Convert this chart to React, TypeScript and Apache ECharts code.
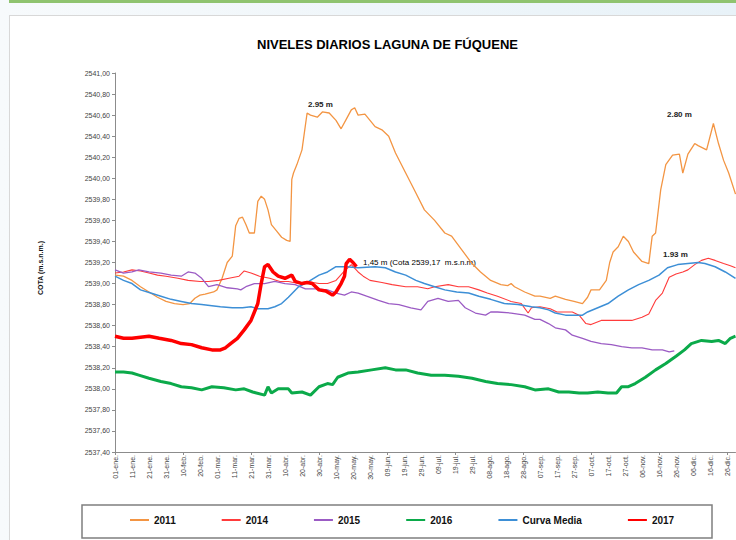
import React, { useEffect, useRef } from "react";
import * as echarts from "echarts";

const MONTHS = ["ene", "feb", "mar", "abr", "may", "jun", "jul", "ago", "sep", "oct", "nov", "dic"];
const MONTH_DAYS = [31, 29, 31, 30, 31, 30, 31, 31, 30, 31, 30, 31];
const CATEGORIES: string[] = [];
MONTHS.forEach((m, i) => {
  for (let d = 1; d <= MONTH_DAYS[i]; d++) CATEGORIES.push(`${d < 10 ? "0" + d : d}-${m}.`);
});

const S2011: [number, number][] = [
  [0, 2539.08], [5, 2539.07], [10, 2539.03], [15, 2538.97], [20, 2538.92], [25, 2538.87], [30, 2538.83], [35, 2538.81],
  [40, 2538.8], [44, 2538.81], [47, 2538.86], [50, 2538.89], [53, 2538.9], [58, 2538.92], [60, 2538.94], [63, 2539.05],
  [66, 2539.2], [69, 2539.26], [71, 2539.55], [73, 2539.62], [75, 2539.63], [77, 2539.56], [79, 2539.48], [82, 2539.48],
  [84, 2539.78], [86, 2539.83], [88, 2539.8], [90, 2539.7], [92, 2539.56], [95, 2539.5], [98, 2539.44], [101, 2539.41],
  [103, 2539.4], [104, 2539.99], [105, 2540.05], [107, 2540.13], [110, 2540.27], [113, 2540.62], [115, 2540.6],
  [119, 2540.58], [122, 2540.63], [126, 2540.62], [130, 2540.55], [133, 2540.47], [136, 2540.56], [139, 2540.65],
  [141, 2540.67], [143, 2540.6], [147, 2540.61], [150, 2540.55], [153, 2540.49], [157, 2540.46], [161, 2540.4],
  [165, 2540.24], [171, 2540.05], [177, 2539.86], [182, 2539.7], [188, 2539.6], [194, 2539.48], [198, 2539.45],
  [204, 2539.32], [210, 2539.19], [215, 2539.11], [221, 2539.03], [227, 2538.99], [231, 2538.98], [233, 2539.0],
  [235, 2538.97], [241, 2538.92], [247, 2538.88], [250, 2538.88], [256, 2538.86], [259, 2538.88], [265, 2538.85],
  [270, 2538.83], [275, 2538.81], [278, 2538.87], [280, 2538.94], [285, 2538.94], [289, 2539.03], [291, 2539.2],
  [293, 2539.3], [296, 2539.35], [299, 2539.45], [302, 2539.4], [305, 2539.3], [310, 2539.21], [314, 2539.19],
  [316, 2539.45], [318, 2539.48], [321, 2539.89], [324, 2540.13], [328, 2540.22], [332, 2540.23], [334, 2540.05],
  [337, 2540.23], [341, 2540.33], [343, 2540.31], [348, 2540.27], [352, 2540.52], [355, 2540.33], [358, 2540.17],
  [361, 2540.05], [365, 2539.85],
];

const S2014: [number, number][] = [
  [0, 2539.1], [5, 2539.11], [10, 2539.13], [15, 2539.12], [20, 2539.1], [25, 2539.08], [30, 2539.07], [37, 2539.05],
  [43, 2539.03], [50, 2539.02], [55, 2539.02], [61, 2539.03], [67, 2539.05], [73, 2539.07], [76, 2539.12], [80, 2539.1],
  [85, 2539.07], [91, 2539.05], [97, 2539.02], [102, 2539.02], [108, 2539.0], [113, 2539.02], [120, 2539.0],
  [125, 2539.0], [130, 2539.03], [135, 2539.12], [139, 2539.18], [143, 2539.11], [146, 2539.07], [150, 2539.03],
  [157, 2539.01], [163, 2538.99], [171, 2538.97], [178, 2538.97], [184, 2538.95], [188, 2538.97], [196, 2538.99],
  [202, 2538.97], [208, 2538.97], [214, 2538.94], [219, 2538.91], [225, 2538.88], [233, 2538.83], [239, 2538.81],
  [243, 2538.72], [245, 2538.77], [250, 2538.78], [256, 2538.76], [260, 2538.73], [265, 2538.73], [269, 2538.73],
  [273, 2538.7], [277, 2538.62], [280, 2538.61], [286, 2538.65], [292, 2538.65], [298, 2538.65], [304, 2538.65],
  [310, 2538.68], [314, 2538.71], [318, 2538.84], [322, 2538.91], [326, 2539.06], [330, 2539.09], [334, 2539.11],
  [337, 2539.13], [341, 2539.18], [345, 2539.22], [349, 2539.24], [353, 2539.22], [358, 2539.19], [362, 2539.17],
  [365, 2539.15],
];

const S2015: [number, number][] = [
  [0, 2539.13], [5, 2539.1], [10, 2539.11], [14, 2539.13], [20, 2539.11], [27, 2539.1], [33, 2539.08], [39, 2539.07],
  [43, 2539.11], [47, 2539.1], [51, 2539.05], [55, 2538.97], [60, 2538.99], [66, 2538.96], [72, 2538.95], [74, 2538.94],
  [77, 2538.97], [82, 2539.0], [88, 2539.0], [94, 2539.02], [100, 2539.0], [106, 2538.99], [112, 2538.95],
  [118, 2538.95], [125, 2538.94], [130, 2538.91], [135, 2538.89], [139, 2538.92], [143, 2538.91], [148, 2538.88],
  [155, 2538.84], [161, 2538.81], [167, 2538.8], [174, 2538.77], [180, 2538.75], [184, 2538.83], [190, 2538.86],
  [196, 2538.83], [202, 2538.84], [206, 2538.77], [212, 2538.72], [218, 2538.7], [221, 2538.73], [225, 2538.73],
  [233, 2538.72], [241, 2538.7], [247, 2538.66], [250, 2538.66], [255, 2538.62], [259, 2538.58], [265, 2538.56],
  [269, 2538.51], [275, 2538.48], [280, 2538.45], [286, 2538.43], [292, 2538.42], [298, 2538.4], [304, 2538.39],
  [310, 2538.39], [316, 2538.37], [322, 2538.37], [326, 2538.35], [329, 2538.36],
];

const S2016: [number, number][] = [
  [0, 2538.16], [5, 2538.16], [10, 2538.15], [14, 2538.13], [20, 2538.1], [27, 2538.07], [33, 2538.05], [39, 2538.02],
  [45, 2538.01], [51, 2537.99], [57, 2538.02], [64, 2538.01], [71, 2537.99], [76, 2538.0], [81, 2537.97], [88, 2537.94],
  [90, 2538.02], [92, 2537.96], [96, 2538.0], [102, 2538.0], [104, 2537.96], [110, 2537.97], [115, 2537.94],
  [120, 2538.02], [125, 2538.05], [128, 2538.04], [131, 2538.11], [137, 2538.15], [143, 2538.16], [151, 2538.18],
  [159, 2538.2], [165, 2538.18], [171, 2538.18], [178, 2538.15], [186, 2538.13], [194, 2538.13], [202, 2538.12],
  [210, 2538.1], [218, 2538.07], [225, 2538.05], [233, 2538.04], [241, 2538.02], [247, 2537.99], [255, 2538.0],
  [261, 2537.97], [267, 2537.97], [273, 2537.96], [278, 2537.96], [284, 2537.97], [290, 2537.96], [295, 2537.96],
  [298, 2538.02], [302, 2538.02], [306, 2538.05], [312, 2538.11], [318, 2538.18], [324, 2538.24], [330, 2538.31],
  [335, 2538.37], [339, 2538.43], [345, 2538.46], [351, 2538.45], [355, 2538.46], [359, 2538.43], [362, 2538.48],
  [365, 2538.5],
];

const SMEDIA: [number, number][] = [
  [0, 2539.07], [5, 2539.03], [10, 2539.0], [15, 2538.94], [21, 2538.91], [27, 2538.88], [33, 2538.85], [39, 2538.83],
  [45, 2538.81], [51, 2538.8], [57, 2538.79], [62, 2538.78], [69, 2538.77], [75, 2538.77], [80, 2538.78], [84, 2538.76],
  [90, 2538.76], [94, 2538.78], [98, 2538.81], [102, 2538.87], [108, 2538.97], [114, 2539.02], [120, 2539.08],
  [125, 2539.11], [130, 2539.16], [136, 2539.16], [143, 2539.15], [153, 2539.16], [159, 2539.15], [165, 2539.11],
  [171, 2539.08], [177, 2539.03], [182, 2539.0], [188, 2538.97], [194, 2538.94], [201, 2538.92], [208, 2538.91],
  [214, 2538.88], [221, 2538.85], [229, 2538.81], [237, 2538.8], [245, 2538.78], [250, 2538.77], [255, 2538.75],
  [259, 2538.72], [265, 2538.7], [271, 2538.7], [275, 2538.7], [278, 2538.73], [284, 2538.77], [290, 2538.81],
  [296, 2538.88], [302, 2538.94], [308, 2538.99], [314, 2539.03], [320, 2539.08], [325, 2539.15], [331, 2539.18],
  [337, 2539.19], [343, 2539.2], [347, 2539.19], [353, 2539.16], [359, 2539.11], [365, 2539.05],
];

const S2017: [number, number][] = [
  [0, 2538.5], [5, 2538.48], [10, 2538.48], [15, 2538.49], [20, 2538.5], [26, 2538.48], [33, 2538.46], [39, 2538.43],
  [45, 2538.42], [51, 2538.39], [57, 2538.37], [62, 2538.37], [65, 2538.39], [68, 2538.43], [72, 2538.48], [76, 2538.56],
  [80, 2538.65], [84, 2538.81], [86, 2539.0], [88, 2539.16], [90, 2539.18], [93, 2539.11], [96, 2539.07], [100, 2539.05],
  [104, 2539.08], [106, 2539.02], [110, 2539.0], [113, 2539.01], [116, 2539.0], [120, 2538.94], [124, 2538.93],
  [128, 2538.89], [130, 2538.92], [133, 2539.0], [135, 2539.07], [136, 2539.19], [138, 2539.23], [140, 2539.2],
  [142, 2539.16],
];

const SERIES = [
  { name: "2011", data: S2011, color: "#F39543", width: 1.3 },
  { name: "2014", data: S2014, color: "#FF3B3B", width: 1.1 },
  { name: "2015", data: S2015, color: "#9B5BC4", width: 1.3 },
  { name: "2016", data: S2016, color: "#0BAA4A", width: 3 },
  { name: "Curva Media", data: SMEDIA, color: "#3D8FD6", width: 1.5 },
  { name: "2017", data: S2017, color: "#FF0000", width: 3.5 },
];

const FONT = "'Liberation Sans', Arial, sans-serif";

export default function App() {
  const ref = useRef<HTMLDivElement>(null);
  useEffect(() => {
    if (!ref.current) return;
    const chart = echarts.init(ref.current, undefined, { renderer: "svg" });
    chart.setOption({
      animation: false,
      textStyle: { fontFamily: FONT },
      title: {
        text: "NIVELES DIARIOS LAGUNA DE FÚQUENE",
        left: 252,
        top: 33,
        textStyle: { fontSize: 13, fontWeight: "bold", color: "#000", fontFamily: FONT },
      },
      grid: { left: 115, top: 73, width: 620.5, height: 379, containLabel: false },
      xAxis: {
        type: "category",
        data: CATEGORIES,
        boundaryGap: false,
        axisLine: { show: true, lineStyle: { color: "#8c8c8c", width: 1 } },
        axisTick: { show: true, interval: 39, length: 3, lineStyle: { color: "#8c8c8c" } },
        axisLabel: { interval: 9, rotate: 90, fontSize: 7, color: "#444", margin: 3, fontFamily: FONT },
        splitLine: { show: false },
      },
      yAxis: {
        type: "value",
        min: 2537.4,
        max: 2541,
        interval: 0.2,
        axisLine: { show: true, lineStyle: { color: "#8c8c8c", width: 1 } },
        axisTick: { show: true, length: 3, lineStyle: { color: "#8c8c8c" } },
        axisLabel: {
          fontSize: 7,
          color: "#444",
          margin: 5,
          fontFamily: FONT,
          formatter: (v: number) => v.toFixed(2).replace(".", ","),
        },
        splitLine: { show: false },
      },
      legend: {
        left: 124,
        top: 510,
        itemWidth: 19,
        itemHeight: 10,
        itemGap: 45,
        itemStyle: { opacity: 0 },
        data: SERIES.map((s) => ({ name: s.name, itemStyle: { opacity: 0 } })),
        textStyle: { fontSize: 10, fontWeight: "bold", color: "#111", fontFamily: FONT },
      },
      series: SERIES.map((s) => ({
        name: s.name,
        type: "line",
        data: s.data,
        symbol: "none",
        showSymbol: false,
        color: s.color,
        lineStyle: { color: s.color, width: s.width },
        z: s.name === "2017" ? 5 : 2,
      })),
      graphic: [
        {
          type: "rect",
          shape: { x: 82, y: 505, width: 630, height: 33 },
          style: { fill: "none", stroke: "#7f7f7f", lineWidth: 1.5 },
          silent: true,
        },
        {
          type: "text",
          x: 40,
          y: 268,
          rotation: Math.PI / 2,
          style: {
            text: "COTA (m.s.n.m.)",
            fontSize: 7,
            fontWeight: "bold",
            fill: "#111",
            fontFamily: FONT,
            textAlign: "center",
            textVerticalAlign: "middle",
          },
        },
        {
          type: "text",
          x: 308,
          y: 104,
          style: { text: "2.95 m", fontSize: 8, fontWeight: "bold", fill: "#222", fontFamily: FONT, textVerticalAlign: "middle" },
        },
        {
          type: "text",
          x: 667,
          y: 114,
          style: { text: "2.80 m", fontSize: 8, fontWeight: "bold", fill: "#222", fontFamily: FONT, textVerticalAlign: "middle" },
        },
        {
          type: "text",
          x: 663,
          y: 254,
          style: { text: "1.93 m", fontSize: 8, fontWeight: "bold", fill: "#222", fontFamily: FONT, textVerticalAlign: "middle" },
        },
        {
          type: "text",
          x: 363,
          y: 262,
          style: {
            text: "1,45 m (Cota 2539,17  m.s.n.m)",
            fontSize: 8,
            fill: "#000",
            fontFamily: FONT,
            textVerticalAlign: "middle",
          },
        },
      ],
    });
    return () => chart.dispose();
  }, []);

  return (
    <div
      style={{
        position: "fixed",
        left: 0,
        top: 0,
        width: 736,
        height: 540,
        overflow: "hidden",
        background: "linear-gradient(90deg, #f7fafc 0%, #e8f2f8 100%)",
      }}
    >
      <div style={{ position: "absolute", left: 9, top: 0, width: 727, height: 3, background: "#8fc36f" }} />
      <div
        style={{
          position: "absolute",
          left: 9,
          top: 15,
          width: 760,
          height: 560,
          background: "#fff",
          border: "1px solid #d8d8d8",
        }}
      />
      <div ref={ref} style={{ position: "absolute", left: 0, top: 0, width: 736, height: 540 }} />
    </div>
  );
}
